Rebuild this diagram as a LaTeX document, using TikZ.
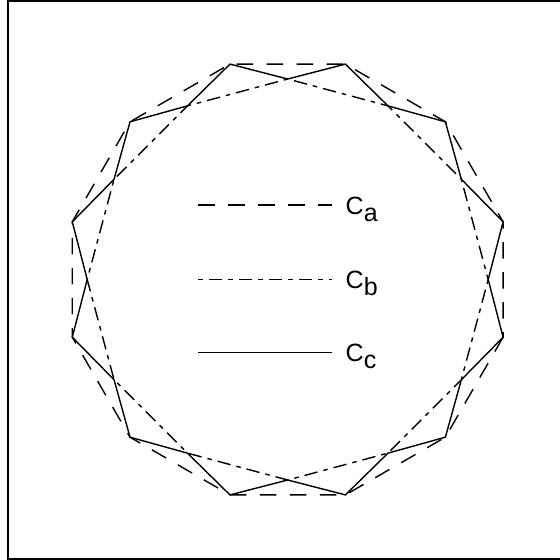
\documentclass[tikz,border=0pt]{standalone}
\usepackage{fontspec}
\setmainfont{Liberation Sans}
\usetikzlibrary{calc}
\begin{document}
\begin{tikzpicture}[x=1pt,y=-1pt,
  ca/.style={line width=1.4pt,dash pattern=on 16.5pt off 13.5pt},
  cb/.style={line width=1.4pt,dash pattern=on 4.5pt off 6pt on 13.5pt off 6pt},
  cc/.style={line width=1.4pt},
  lab/.style={anchor=base west,inner sep=0pt,font=\fontsize{25pt}{30pt}\selectfont},
  line join=miter]
\useasboundingbox (0,0) rectangle (560,560);
\clip (0,0) rectangle (560,560);
\draw[line width=2pt] (8,1) rectangle (575,558.5);
\coordinate (c) at (287.7,279.5);
\foreach \i in {0,...,11}{
  \coordinate (o\i) at ($(c)+({15+30*\i}:223)$);
  \coordinate (n\i) at ($(c)+({30*\i}:200.5)$);
}
% C_a: outer dodecagon
\draw[ca] (o0) \foreach \i in {1,...,11}{ -- (o\i)} -- cycle;
% C_b: inner dodecagon
\draw[cb] (n0) \foreach \i in {1,...,11}{ -- (n\i)} -- cycle;
% C_c: zigzag
\draw[cc] (n0) -- (o0) \foreach \i in {1,...,11}{ -- (n\i) -- (o\i)} -- cycle;
% legend
\coordinate (la1) at (198,205);   \coordinate (la2) at (331.5,205);
\coordinate (lb1) at (198,279.5); \coordinate (lb2) at (331.5,279.5);
\coordinate (lc1) at (198,352.7); \coordinate (lc2) at (331.5,352.7);
\draw[ca] (la1) -- (la2);
\draw[cb] (lb1) -- (lb2);
\draw[cc] (lc1) -- (lc2);
\node[lab] (ta) at (345.5,214) {C\raisebox{-7pt}{a}};
\node[lab] (tb) at (345.5,288.5) {C\raisebox{-7pt}{b}};
\node[lab] (tc) at (345.5,361.7) {C\raisebox{-7pt}{c}};
\end{tikzpicture}
\end{document}
